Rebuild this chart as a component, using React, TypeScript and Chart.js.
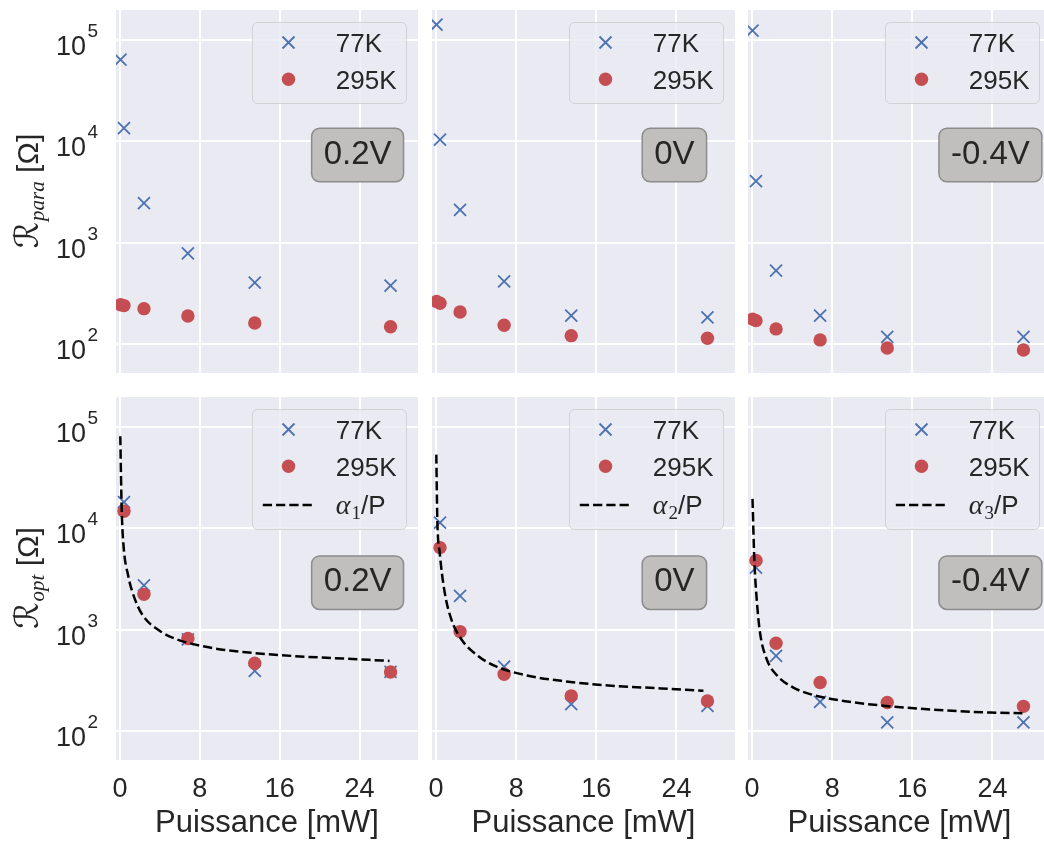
import React, { useEffect, useRef } from "react";
import { Chart, registerables } from "chart.js";
Chart.register(...registerables);

// ---------------- data ----------------
const POWER_PARA = [0.05, 0.4, 2.4, 6.8, 13.5, 27.1];
const POWER_OPT = [0.4, 2.4, 6.8, 13.5, 27.1];
const BIAS = ["0.2V", "0V", "-0.4V"];
const TEMP_LABELS = ["77K", "295K"];
const FIT_INDEX = ["1", "2", "3"];
const X_TICKS = [0, 8, 16, 24];
const Y_TICKS = [100, 1000, 10000, 100000];
const X_TITLE = "Puissance [mW]";
const Y_SUBS = ["para", "opt"];

const RPARA_77K_02 = [64400, 13550, 2450, 783, 402, 375];
const RPARA_295K_02 = [243, 238, 222, 188, 160, 147];
const RPARA_77K_0 = [143000, 10400, 2110, 414, 189, 182];
const RPARA_295K_0 = [261, 251, 206, 152, 120, 113];
const RPARA_77K_M04 = [125000, 4050, 528, 189, 117, 117];
const RPARA_295K_M04 = [175, 169, 140, 109, 90.6, 86.7];

const ROPT_77K_02 = [18200, 2740, 800, 390, 381];
const ROPT_295K_02 = [14800, 2230, 815, 465, 381];
const ROPT_77K_0 = [11400, 2150, 430, 183, 176];
const ROPT_295K_0 = [6460, 955, 362, 221, 197];
const ROPT_77K_M04 = [4090, 550, 193, 121, 121];
const ROPT_295K_M04 = [4830, 733, 300, 190, 174];

const FIT1_P = [0.03, 0.17, 0.33, 0.83, 1.5, 2.33, 4.0, 5.67, 9.0, 12.3, 17.3, 22.3, 27.0];
const FIT1_R = [81500, 15400, 7230, 3380, 1990, 1360, 968, 802, 664, 601, 548, 517, 490];
const FIT2_P = [0.03, 0.13, 0.37, 0.87, 1.53, 2.53, 4.2, 5.87, 9.2, 12.5, 17.5, 22.5, 26.7];
const FIT2_R = [53700, 12300, 5750, 2320, 1264, 802, 548, 437, 349, 311, 278, 262, 248];
const FIT3_P = [0.05, 0.23, 0.47, 0.8, 1.47, 2.47, 4.13, 5.8, 9.13, 12.5, 17.5, 23.8, 27.0];
const FIT3_R = [19600, 4940, 1990, 933, 509, 354, 267, 230, 197, 179, 163, 151, 149];

// ---------------- style ----------------
const SANS = "'Liberation Sans', Arial, sans-serif";
const SERIF = "'Liberation Serif', 'Times New Roman', serif";
const TEXT = "#262626";
const BG = "#EAEAF2";
const BLUE = "#4C72B0";
const RED = "#C44E52";

const COL_LEFT = [116, 432, 748];
const COL_W = [302, 303, 303];
const CANVAS_LEFT = [0, 420, 736];
const ROW_TOP = [10, 397];
const ROW_H = 363;

type PanelSpec = {
  row: number;
  col: number;
  p: number[];
  r77: number[];
  r295: number[];
  bias: string;
  fitP?: number[];
  fitR?: number[];
  fitIdx?: string;
};

const PANELS: PanelSpec[] = [
  { row: 0, col: 0, p: POWER_PARA, r77: RPARA_77K_02, r295: RPARA_295K_02, bias: BIAS[0] },
  { row: 0, col: 1, p: POWER_PARA, r77: RPARA_77K_0, r295: RPARA_295K_0, bias: BIAS[1] },
  { row: 0, col: 2, p: POWER_PARA, r77: RPARA_77K_M04, r295: RPARA_295K_M04, bias: BIAS[2] },
  { row: 1, col: 0, p: POWER_OPT, r77: ROPT_77K_02, r295: ROPT_295K_02, bias: BIAS[0], fitP: FIT1_P, fitR: FIT1_R, fitIdx: FIT_INDEX[0] },
  { row: 1, col: 1, p: POWER_OPT, r77: ROPT_77K_0, r295: ROPT_295K_0, bias: BIAS[1], fitP: FIT2_P, fitR: FIT2_R, fitIdx: FIT_INDEX[1] },
  { row: 1, col: 2, p: POWER_OPT, r77: ROPT_77K_M04, r295: ROPT_295K_M04, bias: BIAS[2], fitP: FIT3_P, fitR: FIT3_R, fitIdx: FIT_INDEX[2] },
];

function geom(spec: PanelSpec) {
  const left = CANVAS_LEFT[spec.col];
  const width = COL_LEFT[spec.col] + COL_W[spec.col] - left;
  const padLeft = COL_LEFT[spec.col] - left;
  const top = spec.row === 0 ? 0 : ROW_TOP[1] - 10;
  const height = spec.row === 0 ? ROW_TOP[0] + ROW_H : 844 - top;
  const xh = spec.row === 0 ? 0 : 844 - (ROW_TOP[1] + ROW_H);
  return { left, width, padLeft, top, height, xh };
}

function rr(ctx: CanvasRenderingContext2D, x: number, y: number, w: number, h: number, r: number) {
  ctx.beginPath();
  ctx.moveTo(x + r, y);
  ctx.lineTo(x + w - r, y);
  ctx.arcTo(x + w, y, x + w, y + r, r);
  ctx.lineTo(x + w, y + h - r);
  ctx.arcTo(x + w, y + h, x + w - r, y + h, r);
  ctx.lineTo(x + r, y + h);
  ctx.arcTo(x, y + h, x, y + h - r, r);
  ctx.lineTo(x, y + r);
  ctx.arcTo(x, y, x + r, y, r);
  ctx.closePath();
}

function drawCross(ctx: CanvasRenderingContext2D, x: number, y: number) {
  const d = 8.5 * Math.SQRT1_2;
  ctx.save();
  ctx.strokeStyle = BLUE;
  ctx.lineWidth = 1.8;
  ctx.beginPath();
  ctx.moveTo(x - d, y - d);
  ctx.lineTo(x + d, y + d);
  ctx.moveTo(x + d, y - d);
  ctx.lineTo(x - d, y + d);
  ctx.stroke();
  ctx.restore();
}

function makeDecor(spec: PanelSpec) {
  return {
    id: "decor" + spec.row + spec.col,
    beforeDraw(chart: any) {
      const { ctx, chartArea: a } = chart;
      ctx.save();
      ctx.fillStyle = BG;
      ctx.fillRect(a.left, a.top, a.right - a.left, a.bottom - a.top);
      ctx.restore();
    },
    afterDraw(chart: any) {
      const { ctx, chartArea: a } = chart;
      ctx.save();
      ctx.fillStyle = TEXT;
      ctx.textBaseline = "alphabetic";
      // y tick labels (10^n) on the left column
      if (spec.col === 0) {
        const ys = chart.scales.y;
        for (const t of ys.ticks) {
          const y = ys.getPixelForValue(t.value);
          const e = Math.round(Math.log10(t.value));
          ctx.font = `27px ${SANS}`;
          ctx.textAlign = "right";
          ctx.fillText("10", a.left - 30, y + 15);
          ctx.font = `19px ${SANS}`;
          ctx.textAlign = "left";
          ctx.fillText(String(e), a.left - 28.5, y - 3);
        }
        // y title
        const cy = (a.top + a.bottom) / 2;
        ctx.save();
        ctx.translate(30, cy);
        ctx.rotate(-Math.PI / 2);
        ctx.textAlign = "left";
        const fR = `33px 'DejaVu Sans', ${SANS}`;
        const fS = `italic 21px ${SERIF}`;
        const fT = `30px ${SANS}`;
        const sub = Y_SUBS[spec.row];
        ctx.font = fR;
        const wR = ctx.measureText("ℛ").width;
        ctx.font = fS;
        const wS = ctx.measureText(sub).width;
        ctx.font = fT;
        const wT = ctx.measureText(" [Ω]").width;
        let x = -(wR + wS + wT) / 2;
        const base = 8;
        ctx.font = fR;
        ctx.fillText("ℛ", x, base);
        x += wR + 1;
        ctx.font = fS;
        ctx.fillText(sub, x, base + 6);
        x += wS;
        ctx.font = fT;
        ctx.fillText(" [Ω]", x, base);
        ctx.restore();
      }

      // legend
      const rows = spec.fitP ? 3 : 2;
      const lw = 154;
      const lh = rows === 3 ? 120 : 81;
      const lx = a.right - 11.5 - lw;
      const ly = a.top + 12.5;
      rr(ctx, lx, ly, lw, lh, 5);
      ctx.fillStyle = "rgba(234,234,242,0.8)";
      ctx.fill();
      ctx.strokeStyle = "rgba(204,204,204,0.8)";
      ctx.lineWidth = 1;
      ctx.stroke();
      const rowY = [ly + 20, ly + 56.7, ly + 95.5];
      const mx = lx + 36;
      const tx = lx + 83.3;
      drawCross(ctx, mx, rowY[0]);
      ctx.beginPath();
      ctx.arc(mx, rowY[1], 6.7, 0, Math.PI * 2);
      ctx.fillStyle = RED;
      ctx.fill();
      ctx.fillStyle = TEXT;
      ctx.font = `26px ${SANS}`;
      ctx.textAlign = "left";
      ctx.fillText(TEMP_LABELS[0], tx, rowY[0] + 9.3);
      ctx.fillText(TEMP_LABELS[1], tx, rowY[1] + 9.3);
      if (spec.fitP) {
        ctx.save();
        ctx.strokeStyle = "#000";
        ctx.lineWidth = 2.5;
        ctx.setLineDash([9.25, 4]);
        ctx.beginPath();
        ctx.moveTo(lx + 10.3, rowY[2]);
        ctx.lineTo(lx + 60.5, rowY[2]);
        ctx.stroke();
        ctx.restore();
        let x = tx;
        const b = rowY[2] + 9.3;
        ctx.font = `italic 28px ${SERIF}`;
        ctx.fillText("α", x, b);
        x += ctx.measureText("α").width + 1;
        ctx.font = `19px ${SERIF}`;
        ctx.fillText(spec.fitIdx || "", x, b + 5);
        x += ctx.measureText(spec.fitIdx || "").width;
        ctx.font = `26px ${SANS}`;
        ctx.fillText("/P", x, b);
      }

      // annotation box
      ctx.font = `33px ${SANS}`;
      const tw = ctx.measureText(spec.bias).width;
      const bw = tw + 24;
      const bh = 53.5;
      const bcx = a.left + 0.8 * (a.right - a.left);
      const bcy = a.top + (spec.row === 0 ? 145 : 185.7);
      rr(ctx, bcx - bw / 2, bcy - bh / 2, bw, bh, 8);
      ctx.fillStyle = "#C0BFBD";
      ctx.fill();
      ctx.strokeStyle = "#8C8C8C";
      ctx.lineWidth = 1.5;
      ctx.stroke();
      ctx.fillStyle = TEXT;
      ctx.textAlign = "center";
      ctx.fillText(spec.bias, bcx, bcy - 3.3 + 0.358 * 33);
      ctx.restore();
    },
  };
}

function Panel({ spec }: { spec: PanelSpec }) {
  const ref = useRef<HTMLCanvasElement | null>(null);
  const g = geom(spec);
  useEffect(() => {
    const datasets: any[] = [
      {
        label: TEMP_LABELS[0],
        data: spec.p.map((x, i) => ({ x, y: spec.r77[i] })),
        pointStyle: "crossRot",
        pointRadius: 8.5,
        pointBorderWidth: 1.8,
        pointBorderColor: BLUE,
        pointBackgroundColor: "rgba(0,0,0,0)",
        showLine: false,
        order: 3,
        clip: 0,
      },
      {
        label: TEMP_LABELS[1],
        data: spec.p.map((x, i) => ({ x, y: spec.r295[i] })),
        pointStyle: "circle",
        pointRadius: 6.7,
        pointBorderWidth: 0,
        pointBackgroundColor: RED,
        pointBorderColor: RED,
        showLine: false,
        order: 2,
        clip: 0,
      },
    ];
    if (spec.fitP && spec.fitR) {
      const fr = spec.fitR;
      datasets.push({
        label: "fit",
        data: spec.fitP.map((x, i) => ({ x, y: fr[i] })),
        showLine: true,
        borderColor: "#000000",
        borderWidth: 2.5,
        borderDash: [9.25, 4],
        pointRadius: 0,
        cubicInterpolationMode: "monotone",
        order: 1,
        clip: 0,
      });
    }
    const chart = new Chart(ref.current as HTMLCanvasElement, {
      type: "scatter",
      data: { datasets },
      options: {
        animation: false,
        responsive: false,
        devicePixelRatio: 1,
        events: [],
        layout: { autoPadding: false, padding: { left: g.padLeft, top: 10, right: 0, bottom: 0 } },
        plugins: { legend: { display: false }, tooltip: { enabled: false } },
        scales: {
          x: {
            type: "linear",
            min: -0.4,
            max: 29.85,
            afterBuildTicks: (s: any) => {
              s.ticks = X_TICKS.map((v) => ({ value: v }));
            },
            afterFit: (s: any) => {
              s.height = g.xh;
              s.paddingLeft = 0;
              s.paddingRight = 0;
            },
            grid: { color: "#FFFFFF", lineWidth: 2, drawTicks: false },
            border: { display: false },
            ticks: {
              display: spec.row === 1,
              font: { family: SANS, size: 27 },
              color: TEXT,
              padding: 13,
              maxRotation: 0,
              autoSkip: false,
            },
            title: {
              display: spec.row === 1,
              text: X_TITLE,
              font: { family: SANS, size: 31 },
              color: TEXT,
              padding: { top: 0, bottom: 2 },
            },
          },
          y: {
            type: "logarithmic",
            min: Math.pow(10, 1.71),
            max: Math.pow(10, 5.3),
            afterBuildTicks: (s: any) => {
              s.ticks = Y_TICKS.map((v) => ({ value: v }));
            },
            afterFit: (s: any) => {
              s.width = 0;
              s.paddingTop = 0;
              s.paddingBottom = 0;
            },
            grid: { color: "#FFFFFF", lineWidth: 2, drawTicks: false },
            border: { display: false },
            ticks: { display: false },
          },
        },
      },
      plugins: [makeDecor(spec)],
    } as any);
    return () => chart.destroy();
  }, []);
  return (
    <canvas
      ref={ref}
      width={g.width}
      height={g.height}
      style={{ position: "absolute", left: g.left, top: g.top, width: g.width, height: g.height }}
    />
  );
}

export default function App() {
  return (
    <div
      style={{
        position: "absolute",
        left: 0,
        top: 0,
        width: 1044,
        height: 844,
        overflow: "hidden",
        background: "#FFFFFF",
      }}
    >
      {PANELS.map((s) => (
        <Panel key={`${s.row}-${s.col}`} spec={s} />
      ))}
    </div>
  );
}
